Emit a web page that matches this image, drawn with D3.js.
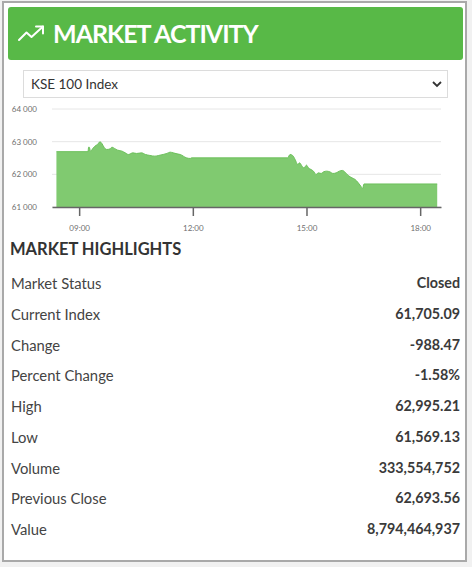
<!DOCTYPE html>
<html>
<head>
<meta charset="utf-8">
<script src="https://cdn.jsdelivr.net/npm/d3@7.9.0/dist/d3.min.js"></script>
<style>
  html, body { margin: 0; padding: 0; background: #f1f1f1; }
  body { width: 472px; height: 567px; position: relative; overflow: hidden; font-family: Lato, "Open Sans", sans-serif; }
  .panel { position: absolute; left: 2px; top: 1px; width: 461px; height: 557px; border: 2px solid #a9a9a9; background: #fff; }
  .header { position: absolute; left: 8px; top: 7px; width: 455px; height: 53px; background: #58b947; border-radius: 3px; }
  .header .title { position: absolute; left: 45px; top: 10px; color: #fff; font-weight: 700; font-size: 25px; letter-spacing: -1px; line-height: 32px; }
  .select { position: absolute; left: 23px; top: 70px; width: 423px; height: 26px; border: 1px solid #dcdcdc; background: #fff; }
  .select .txt { position: absolute; left: 7px; top: 3px; font-size: 13.5px; color: #333; line-height: 20px; }
  .hl-title { position: absolute; left: 10px; top: 238px; font-size: 16.5px; font-weight: 700; color: #333; line-height: 22px; }
  .row { position: absolute; left: 11px; width: 449px; height: 20px; font-size: 14.8px; line-height: 20px; }
  .row .lab { position: absolute; left: 0; color: #444; }
  .row .val { position: absolute; right: 0; color: #3a3a3a; font-weight: 700; font-size: 14.3px; }
  svg { position: absolute; left: 0; top: 0; }
</style>
</head>
<body>
<div class="panel"></div>
<div class="header"><span class="title">MARKET ACTIVITY</span></div>
<div class="select"><span class="txt">KSE 100 Index</span></div>
<div class="hl-title">MARKET HIGHLIGHTS</div>
<div id="rows"></div>
<svg id="chart" width="472" height="567"></svg>
<script>
// intraday series
const times = ["08:24","09:14","09:15","09:16","09:18","09:22","09:25","09:29","09:33","09:36",
  "09:40","09:44","09:49","09:52","09:56","10:01","10:08","10:13","10:18","10:25",
  "10:31","10:39","10:45","10:52","11:00","11:06","11:13","11:19","11:24","11:29",
  "11:35","11:40","11:50","11:56","11:58","14:30","14:34","14:38","14:42","14:46",
  "14:49","14:53","14:56","15:00","15:03","15:07","15:11","15:15","15:19","15:23",
  "15:27","15:32","15:37","15:42","15:47","15:52","15:57","16:01","16:06","16:12",
  "16:17","16:22","16:26","16:29","16:31","18:27"];
const values = [62694,62694,62832,62832,62709,62801,62862,62914,62995,62945,
  62810,62761,62780,62832,62792,62740,62709,62657,62608,62657,
  62639,62657,62608,62578,62556,62578,62608,62639,62679,62657,
  62627,62608,62504,62486,62504,62504,62608,62578,62455,62302,
  62351,62250,62198,62281,62198,62149,62097,61996,62045,62027,
  62076,62097,62076,62027,62045,62097,62119,62067,61966,61892,
  61843,61739,61638,61569,61705,61705];

const yTicks = [61000, 62000, 63000, 64000];
const xTicks = ["09:00", "12:00", "15:00", "18:00"];

const hlLabels = ["Market Status","Current Index","Change","Percent Change","High","Low","Volume","Previous Close","Value"];
const hlValues = ["Closed","61,705.09","-988.47","-1.58%","62,995.21","61,569.13","333,554,752","62,693.56","8,794,464,937"];

const parse = d3.timeParse("%H:%M");
const data = times.map((t, i) => ({ t: parse(t), v: values[i] }));

const svg = d3.select("#chart");

// header icon (trending up)
const icon = svg.append("g")
  .attr("fill", "none").attr("stroke", "#fff").attr("stroke-width", 2)
  .attr("stroke-linecap", "round").attr("stroke-linejoin", "round");
icon.append("polyline").attr("points", "19,40 26.5,32.5 31.5,37 43,26.5");
icon.append("polyline").attr("points", "36,26.5 43,26.5 43,33.5");

// select chevron
svg.append("polyline")
  .attr("points", "433,82 437,86 441,82")
  .attr("fill", "none").attr("stroke", "#333").attr("stroke-width", 1.8);

// chart
const x = d3.scaleTime().domain([parse("08:17"), parse("18:33")]).range([52, 441]);
const y = d3.scaleLinear().domain([61000, 64000]).range([207, 109]);

const g = svg.append("g");

g.append("g").selectAll("line").data(yTicks).join("line")
  .attr("x1", 52).attr("x2", 441)
  .attr("y1", d => y(d)).attr("y2", d => y(d))
  .attr("stroke", "#e6e6e6").attr("stroke-width", 1);

const area = d3.area()
  .x(d => x(d.t)).y0(y(61000)).y1(d => y(d.v))
  .curve(d3.curveMonotoneX);
const line = d3.line()
  .x(d => x(d.t)).y(d => y(d.v))
  .curve(d3.curveMonotoneX);

g.append("path").datum(data).attr("d", area).attr("fill", "#80ca70");
g.append("path").datum(data).attr("d", line)
  .attr("fill", "none").attr("stroke", "#6cc05b").attr("stroke-width", 1);

const yAxis = g.append("g")
  .attr("transform", "translate(37,0)")
  .call(d3.axisLeft(y).tickValues(yTicks).tickSize(0).tickPadding(0)
    .tickFormat(d => d3.format(",")(d).replace(",", " ")));
yAxis.select(".domain").remove();
yAxis.selectAll("text").attr("fill", "#6f6f6f").style("font-size", "8px").style("font-family", "Lato, sans-serif");

const xAxis = g.append("g")
  .attr("transform", "translate(0,207)")
  .call(d3.axisBottom(x).tickValues(xTicks.map(parse)).tickSize(9).tickSizeOuter(0).tickPadding(9)
    .tickFormat(d3.timeFormat("%H:%M")));
xAxis.select(".domain").attr("stroke", "#666").attr("stroke-width", 1.5);
xAxis.selectAll(".tick line").attr("stroke", "#666").attr("stroke-width", 1.5);
xAxis.selectAll("text").attr("fill", "#6f6f6f").style("font-size", "8px").style("font-family", "Lato, sans-serif");

// highlights table
const rowTop = 273, rowStep = 30.75;
d3.select("#rows").selectAll("div").data(hlLabels).join("div")
  .attr("class", "row")
  .style("top", (d, i) => (rowTop + i * rowStep) + "px")
  .html((d, i) => `<span class="lab">${d}</span><span class="val">${hlValues[i]}</span>`);
</script>
</body>
</html>
